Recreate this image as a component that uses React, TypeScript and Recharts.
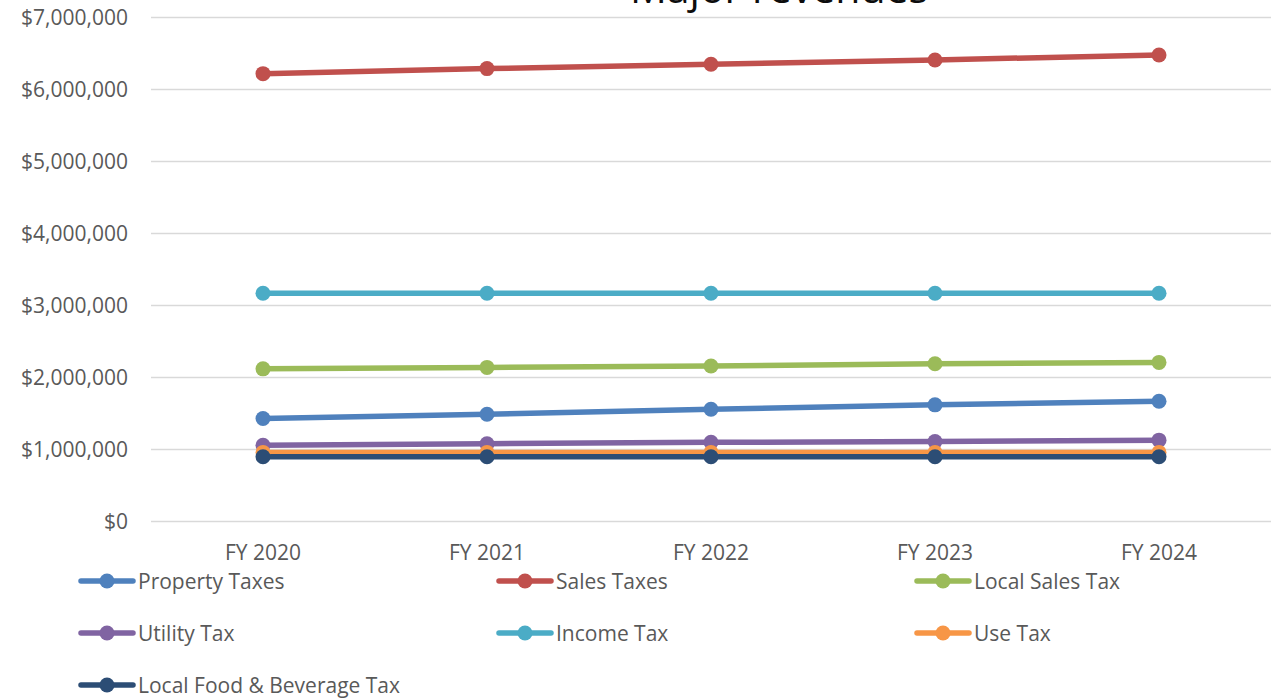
import React from "react";
import { LineChart, Line, XAxis, YAxis, CartesianGrid } from "recharts";

const years = ["FY 2020", "FY 2021", "FY 2022", "FY 2023", "FY 2024"];

const propertyTaxes = [1430000, 1490000, 1560000, 1620000, 1670000];
const salesTaxes = [6220000, 6290000, 6350000, 6410000, 6480000];
const localSalesTax = [2120000, 2140000, 2160000, 2190000, 2210000];
const utilityTax = [1060000, 1080000, 1100000, 1110000, 1130000];
const incomeTax = [3170000, 3170000, 3170000, 3170000, 3170000];
const useTax = [960000, 960000, 960000, 960000, 960000];
const foodBeverageTax = [900000, 900000, 900000, 900000, 900000];

const yTicks = [0, 1000000, 2000000, 3000000, 4000000, 5000000, 6000000, 7000000];

const seriesList = [
  { key: "property", name: "Property Taxes", color: "#4F81BD", values: propertyTaxes },
  { key: "sales", name: "Sales Taxes", color: "#C0504D", values: salesTaxes },
  { key: "localSales", name: "Local Sales Tax", color: "#9BBB59", values: localSalesTax },
  { key: "utility", name: "Utility Tax", color: "#8064A2", values: utilityTax },
  { key: "income", name: "Income Tax", color: "#4BACC6", values: incomeTax },
  { key: "use", name: "Use Tax", color: "#F79646", values: useTax },
  { key: "food", name: "Local Food & Beverage Tax", color: "#2C4D75", values: foodBeverageTax },
];

const data = years.map((year, i) => {
  const row: Record<string, string | number> = { year };
  seriesList.forEach((s) => {
    row[s.key] = s.values[i];
  });
  return row;
});

const FONT = "'Open Sans', sans-serif";
const TEXT_COLOR = "#595959";

const formatDollars = (v: number) => "$" + v.toLocaleString("en-US");

function LegendBlock() {
  return (
    <div
      style={{
        position: "absolute",
        left: 78,
        top: 555,
        width: 1254,
        display: "grid",
        gridTemplateColumns: "418px 418px 418px",
        gridAutoRows: "52px",
        fontFamily: FONT,
        fontSize: 21,
        color: TEXT_COLOR,
      }}
    >
      {seriesList.map((s) => (
        <div key={s.key} style={{ display: "flex", alignItems: "center", height: 52 }}>
          <svg width={58} height={20} style={{ flex: "none" }}>
            <line x1={3} y1={10} x2={55} y2={10} stroke={s.color} strokeWidth={5.5} strokeLinecap="round" />
            <circle cx={29} cy={10} r={7.5} fill={s.color} />
          </svg>
          <span style={{ marginLeft: 2, whiteSpace: "nowrap" }}>{s.name}</span>
        </div>
      ))}
    </div>
  );
}

export default function App() {
  return (
    <div style={{ position: "absolute", left: 0, top: 0, width: 1284, height: 698, background: "#fff", overflow: "hidden" }}>
      <LineChart
        width={1284}
        height={698}
        data={data}
        margin={{ top: 17.5, right: 13, left: 0, bottom: 0 }}
        style={{ fontFamily: FONT }}
      >
        <CartesianGrid vertical={false} stroke="#D9D9D9" strokeWidth={1.5} />
        <XAxis
          dataKey="year"
          height={176.5}
          axisLine={false}
          tickLine={false}
          tickSize={0}
          tickMargin={24}
          padding={{ left: 112, right: 112 }}
          tick={{ fill: TEXT_COLOR, fontSize: 21 }}
          interval={0}
        />
        <YAxis
          width={151}
          domain={[0, 7000000]}
          ticks={yTicks}
          axisLine={false}
          tickLine={false}
          tickSize={0}
          tickMargin={23}
          tickFormatter={formatDollars}
          tick={{ fill: TEXT_COLOR, fontSize: 21 }}
          interval={0}
        />
        {seriesList.map((s) => (
          <Line
            key={s.key}
            dataKey={s.key}
            name={s.name}
            stroke={s.color}
            strokeWidth={5.5}
            dot={{ r: 7.5, fill: s.color, stroke: s.color, strokeWidth: 0 }}
            activeDot={false}
            isAnimationActive={false}
          />
        ))}
      </LineChart>
      <svg width={1284} height={40} style={{ position: "absolute", left: 0, top: 0, pointerEvents: "none" }}>
        <text x={779} y={3} textAnchor="middle" fontFamily={FONT} fontSize={41} fill="#0d0d0d">
          Major revenues
        </text>
      </svg>
      <LegendBlock />
    </div>
  );
}
